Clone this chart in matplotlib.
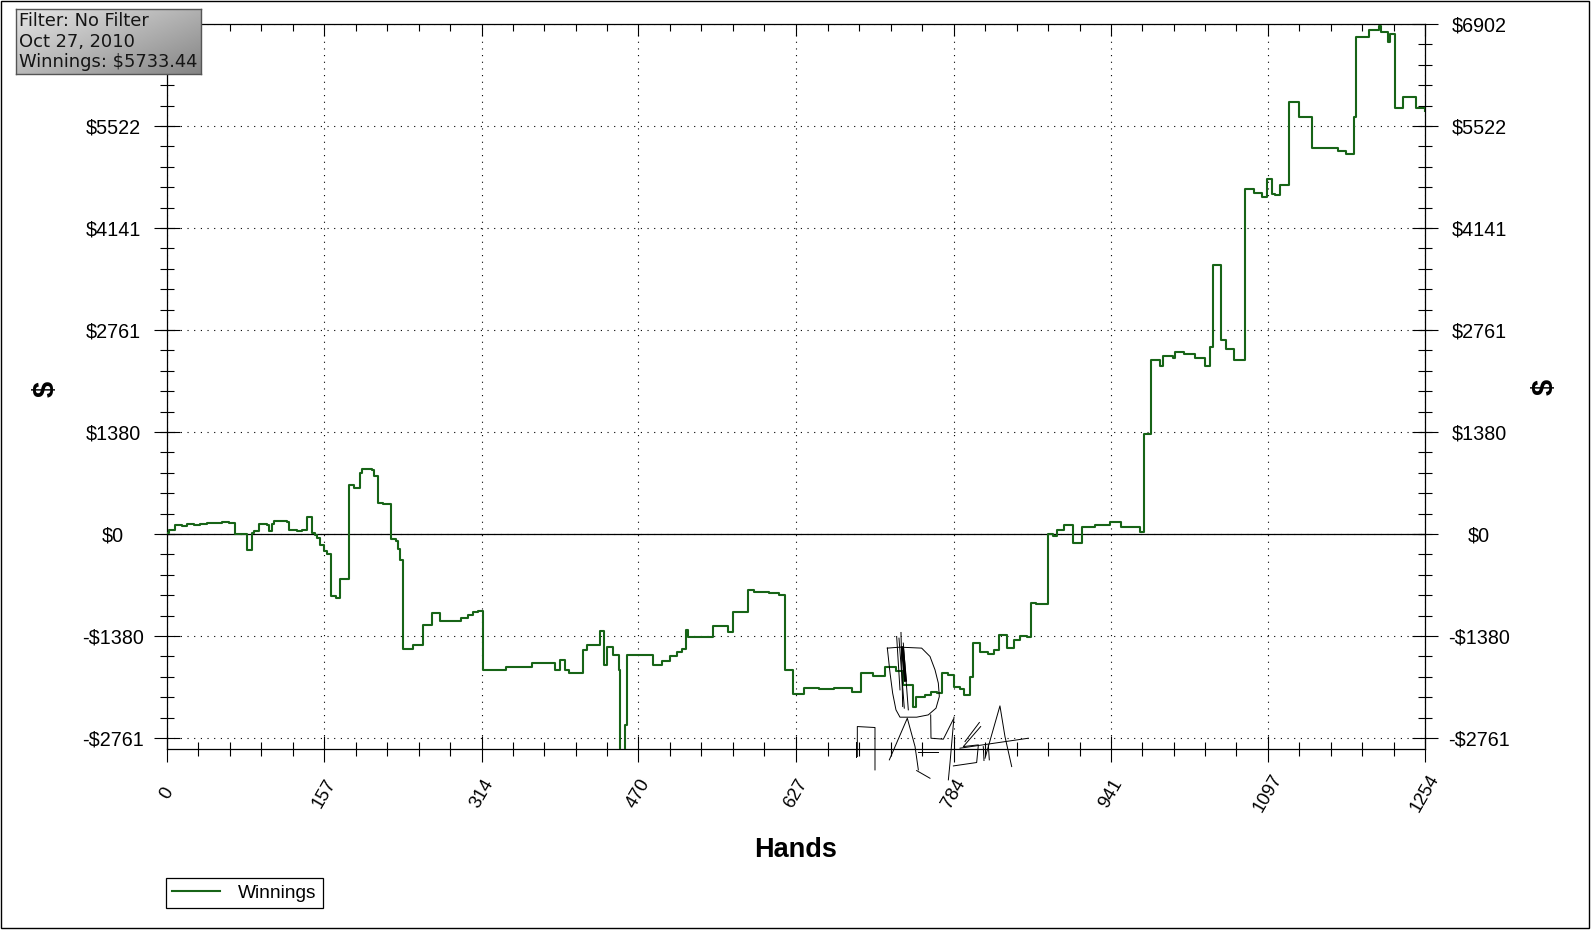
import matplotlib
matplotlib.use('Agg')
import matplotlib.pyplot as plt
import numpy as np
from matplotlib.ticker import FixedLocator, AutoMinorLocator
from matplotlib.patches import Rectangle
from matplotlib.lines import Line2D
from matplotlib.colors import LinearSegmentedColormap

plt.rcParams['font.family'] = ['Liberation Sans', 'DejaVu Sans']

# ---------------- data ----------------
hands = [0, 2, 8, 15, 20, 27, 33, 40, 48, 55, 62, 68, 80, 85, 87, 92, 100, 102, 105, 107,
         115, 120, 122, 130, 135, 140, 145, 148, 150, 153, 157, 160, 164, 169, 173, 182, 187,
         193, 195, 205, 207, 211, 216, 223, 228, 230, 232, 235, 245, 255, 264, 272, 293, 300,
         305, 310, 315, 338, 364, 387, 392, 397, 401, 415, 419, 432, 436, 439, 445, 451, 452,
         457, 459, 485, 493, 501, 508, 513, 517, 519, 544, 559, 564, 579, 585, 600, 610, 616,
         624, 635, 650, 665, 683, 692, 704, 716, 727, 734, 744, 747, 756, 762, 767, 772, 778,
         784, 790, 794, 800, 803, 810, 818, 824, 829, 837, 844, 850, 857, 861, 866, 878, 883,
         887, 894, 903, 912, 925, 940, 951, 965, 970, 974, 981, 990, 993, 1003, 1005, 1014,
         1025, 1035, 1039, 1042, 1050, 1055, 1063, 1074, 1083, 1091, 1096, 1101, 1104, 1109,
         1118, 1128, 1141, 1167, 1175, 1183, 1185, 1198, 1208, 1210, 1217, 1219, 1224, 1232,
         1245, 1254]
winnings = [10, 50, 126, 115, 130, 122, 140, 150, 145, 158, 150, 0, -212, 13, 36, 135, 120, 36,
            135, 171, 180, 160, 58, 45, 60, 230, 13, -9, -60, -144, -230, -270, -833, -864,
            -608, 666, 621, 824, 882, 870, 779, 419, 400, -68, -90, -200, -347, -1562, -1502,
            -1231, -1072, -1172, -1140, -1100, -1050, -1036, -1842, -1797, -1751, -1842, -1706,
            -1842, -1878, -1570, -1502, -1308, -1774, -1525, -1638, -1842, -3100, -2589, -1638,
            -1774, -1720, -1650, -1600, -1560, -1298, -1389, -1244, -1321, -1058, -755, -790,
            -800, -823, -1842, -2168, -2091, -2100, -2085, -2136, -1878, -1923, -1797, -1850,
            -2046, -2340, -2204, -2181, -2136, -2150, -1887, -1910, -2068, -2100, -2177, -1941,
            -1480, -1593, -1629, -1570, -1366, -1548, -1434, -1380, -1398, -936, -950, 0, -24,
            48, 120, -120, 97, 120, 160, 100, 90, 34, 1361, 2351, 2269, 2414, 2380, 2462, 2438,
            2380, 2269, 2534, 3644, 2631, 2510, 2351, 4668, 4620, 4562, 4803, 4610, 4586, 4730,
            5850, 5648, 5228, 5180, 5150, 5648, 6724, 6830, 6878, 6800, 6661, 6772, 5768, 5913,
            5768, 5733]

x_ticks = [0, 157, 314, 470, 627, 784, 941, 1097, 1254]
x_tick_labels = ['0', '157', '314', '470', '627', '784', '941', '1097', '1254']
y_ticks = [-2761, -1380, 0, 1380, 2761, 4141, 5522, 6902]
y_tick_labels = ['-$2761', '-$1380', '$0', '$1380', '$2761', '$4141', '$5522', '$6902']
info_lines = ['Filter: No Filter', 'Oct 27, 2010', 'Winnings: $5733.44']
series_name = 'Winnings'
x_label = 'Hands'
y_label = '$'

# hand-drawn scribble over the chart (hands, dollars)
scribble = [
    ([718, 730.6, 752.2, 760.5, 765.5, 768.8, 769.8, 766.5, 758.8, 747.2, 730.6, 726.6, 723.3, 720.7, 718],
     [-1545, -1532, -1545, -1658, -1839, -2019, -2200, -2358, -2449, -2480, -2480, -2381, -2155, -1884, -1545]),
    ([731.6, 733.3], [-1333, -2336]),
    ([729.6, 734.9], [-1410, -2358]),
    ([733.9, 738.9], [-1477, -2381]),
    ([727.3, 730.6], [-1387, -2110]),
    ([688.1, 688.1, 705.7, 705.7], [-3013, -2607, -2620, -3194]),
    ([686.8, 686.8], [-2810, -3013]),
    ([720.0, 737.9, 745.6, 748.9], [-3058, -2494, -2878, -3194]),
    ([747.2, 760.5], [-3203, -3307]),
    ([748.9, 768.8], [-2945, -2945]),
    ([761.2, 761.5, 773.8, 783.8], [-2449, -2765, -2778, -2507]),
    ([784.4, 780.4, 778.8], [-2480, -3104, -3329]),
    ([795.4, 809.7], [-2810, -2552]),
    ([811.0, 793.7, 808.7, 807.0, 783.8], [-2607, -2878, -2855, -3094, -3140]),
    ([815.3, 830.2, 835.2, 841.9], [-3036, -2327, -2742, -3149]),
    ([790.4, 858.5], [-2900, -2765]),
    ([813.6, 814.3], [-2878, -3067]),
    ([818.6, 819.6], [-2855, -3058]),
]
scribble_thick = ([733.0, 736.0], [-1540, -1980])

# ---------------- figure ----------------
W, H = 1592, 931
fig = plt.figure(figsize=(W / 100, H / 100), dpi=100)
fig.patch.set_facecolor('white')


def fx(px):
    return px / W


def fy(py):
    return 1 - py / H


L, R, T, B = 166.7, 1425.3, 24.3, 749.3
ax = fig.add_axes([fx(L), fy(B), (R - L) / W, (B - T) / H])
GREEN = '#176417'
line, = ax.plot(hands, winnings, drawstyle='steps-post', color=GREEN, lw=1.5, zorder=3)
ax.set_xlim(0, 1254)
ax.set_ylim(-2915, 6902)
ax.axhline(0, color='black', lw=0.9, zorder=2)

for xs, ys in scribble:
    ax.plot(xs, ys, color='black', lw=0.7, clip_on=False, zorder=4)
ax.plot(*scribble_thick, color='black', lw=2.2, clip_on=False, zorder=4)

ax.set_xticks(x_ticks)
ax.set_xticklabels(x_tick_labels)
ax.set_yticks(y_ticks)
ax.set_yticklabels(y_tick_labels)
x_minor = []
for a, b in zip(x_ticks[:-1], x_ticks[1:]):
    x_minor += list(np.linspace(a, b, 6)[1:-1])
ax.xaxis.set_minor_locator(FixedLocator(x_minor))
ax.yaxis.set_minor_locator(AutoMinorLocator(5))

ax.grid(True, which='major', linestyle=(0, (1, 5)), color='black', lw=0.8)
for s in ax.spines.values():
    s.set_linewidth(0.9)

ax.tick_params(axis='both', which='major', direction='inout', length=18.7, width=0.8, color='black')
ax.tick_params(axis='both', which='minor', direction='inout', length=9.4, width=0.8, color='black')
ax.tick_params(axis='y', which='both', left=True, right=True, labelleft=True, labelright=True,
               labelsize=14.2)
ax.tick_params(axis='y', which='major', pad=29.3)
ax.tick_params(axis='x', which='both', top=False, bottom=True, labelsize=13.2)
ax.tick_params(axis='x', which='major', pad=22.5, labelrotation=60)
yt = ax.yaxis.get_major_ticks()
for t in yt:
    t.label1.set_ha('center')
    t.label2.set_ha('center')
yt[-1].label1.set_visible(False)   # hidden under the info box in the original
for t in ax.xaxis.get_major_ticks():
    t.label1.set_ha('center')
    t.label1.set_va('center')
    t.label1.set_rotation_mode('anchor')

# top axis ticks (inward only)
ax2 = ax.twiny()
ax2.set_xlim(ax.get_xlim())
ax2.set_xticks(x_ticks)
ax2.set_xticklabels([])
ax2.xaxis.set_minor_locator(FixedLocator(x_minor))
ax2.tick_params(axis='x', which='major', direction='in', length=8.4, width=0.8)
ax2.tick_params(axis='x', which='minor', direction='in', length=4.8, width=0.8)
for s in ax2.spines.values():
    s.set_visible(False)

ax.set_xlabel(x_label, fontsize=19.5, fontweight='bold')
ax.xaxis.set_label_coords(0.5, (B - 850) / (B - T))
ax.xaxis.label.set_va('center')
fig.text(fx(45.7), fy(389), y_label, rotation=90, fontsize=21, fontweight='bold',
         ha='center', va='center')
fig.text(fx(1545), fy(387), y_label, rotation=90, fontsize=21, fontweight='bold',
         ha='center', va='center')

# legend
leg = fig.legend(handles=[Line2D([], [], color=GREEN, lw=1.5)], labels=[series_name],
                 loc='upper left', bbox_to_anchor=(fx(166), fy(878.3)),
                 bbox_transform=fig.transFigure, frameon=True, fancybox=False,
                 edgecolor='black', framealpha=1, borderaxespad=0, borderpad=0.32,
                 handlelength=2.5, handletextpad=0.95, fontsize=13.8)
leg.get_frame().set_linewidth(0.9)

# info box
bx0, by0, bx1, by1 = 16, 9.3, 200.7, 74
bax = fig.add_axes([fx(bx0), fy(by1), (bx1 - bx0) / W, (by1 - by0) / H])
gx, gy = np.meshgrid(np.linspace(0, 1, 240), np.linspace(0, 1, 80))
grad = 0.55 * gx + 0.45 * gy
cmap = LinearSegmentedColormap.from_list('box', ['#e6e6e6', '#858585'])
bax.imshow(grad, cmap=cmap, extent=[0, 1, 0, 1], aspect='auto', origin='upper', vmin=0, vmax=1)
bax.set_xticks([])
bax.set_yticks([])
for s in bax.spines.values():
    s.set_color('#555555')
    s.set_linewidth(1.0)
for i, txt in enumerate(info_lines):
    fig.text(fx(19.3), fy(21 + i * 20.65), txt, fontsize=12.9, family='DejaVu Sans',
             color='#151515', ha='left', va='center', zorder=10)

# outer border
fig.patches.append(Rectangle((0.5 / W, 3 / H), 1588.5 / W, 927 / H, transform=fig.transFigure,
                             fill=False, edgecolor='black', lw=1.0))

fig.savefig('out.png', dpi=100)
